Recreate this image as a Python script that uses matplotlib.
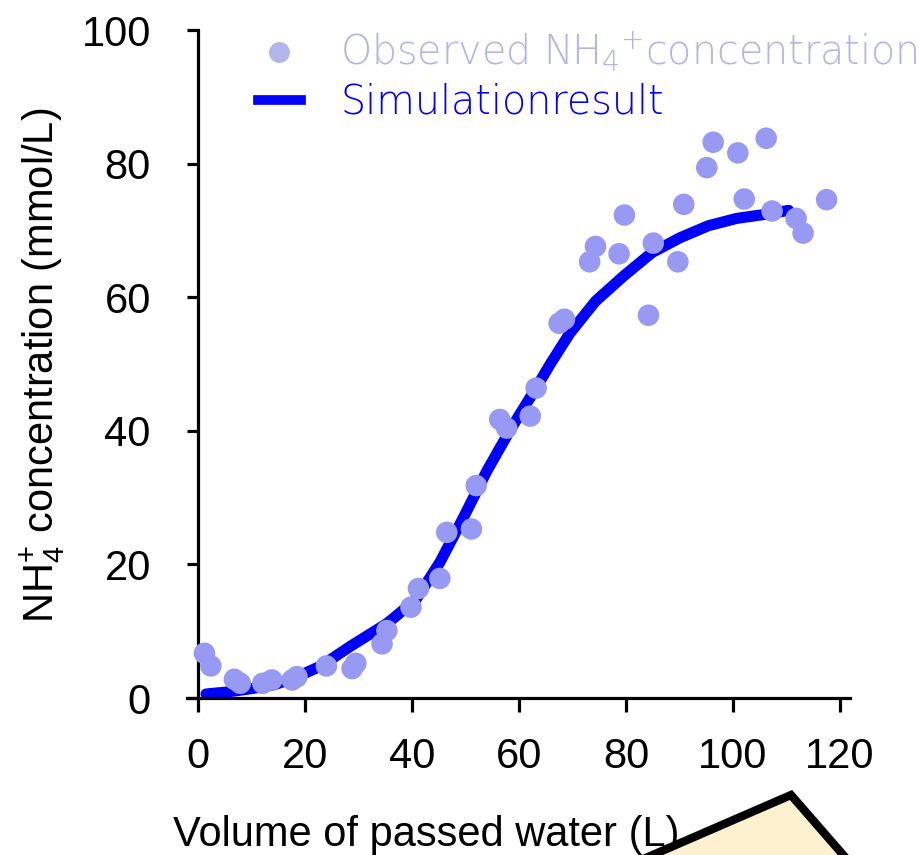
import matplotlib
matplotlib.use("Agg")
import matplotlib.pyplot as plt
from matplotlib.lines import Line2D
from matplotlib.patches import Polygon

# observed NH4+ concentration (mmol/L) vs passed water volume (L)
obs_x = [1.2, 2.4, 6.8, 7.9, 12.1, 13.8, 17.6, 18.5, 24.0, 28.8, 29.5, 34.4, 35.3,
         39.8, 41.2, 45.2, 46.5, 51.1, 52.0, 56.4, 57.7, 62.1, 63.2, 67.5, 68.5,
         73.2, 74.3, 78.7, 79.7, 84.2, 85.1, 89.7, 90.8, 95.1, 96.3, 100.9, 102.1,
         106.2, 107.3, 111.8, 113.1, 117.5]
obs_y = [6.7, 4.8, 2.8, 2.2, 2.2, 2.7, 2.7, 3.2, 4.8, 4.4, 5.2, 8.1, 10.1,
         13.6, 16.4, 17.9, 24.8, 25.3, 31.8, 41.7, 40.4, 42.2, 46.4, 56.1, 56.7,
         65.3, 67.6, 66.5, 72.3, 57.3, 68.1, 65.3, 73.9, 79.4, 83.2, 81.6, 74.7,
         83.8, 72.9, 71.8, 69.6, 74.6]

# simulation result
sim_x = [1.5, 5.5, 10.0, 14.3, 18.0, 23.0, 28.4, 35.4, 40.7, 45.2, 49.6, 54.0,
         58.4, 62.8, 66.0, 69.5, 74.3, 79.6, 84.9, 90.1, 95.4, 100.7, 106.0, 110.4]
sim_y = [0.6, 0.9, 1.4, 2.0, 3.0, 4.8, 7.7, 11.2, 14.7, 20.3, 27.0, 34.0,
         40.2, 45.9, 50.2, 54.6, 59.4, 63.2, 66.7, 68.9, 70.7, 71.8, 72.4, 73.0]

x_ticks = [0, 20, 40, 60, 80, 100, 120]
y_ticks = [0, 20, 40, 60, 80, 100]

W, H = 920, 855
ARIAL = "Liberation Sans"

fig = plt.figure(figsize=(W / 100, H / 100), dpi=100)
ax = fig.add_axes([187 / W, 1 - 698 / H, (850 - 187) / W, (698 - 30) / H])

ax.plot(sim_x, sim_y, color="#0000ff", lw=8, solid_capstyle="round", zorder=2)
ax.scatter(obs_x, obs_y, s=240, color="#9799f3", edgecolors="none", zorder=3)

ax.set_xlim(-2.06, 121.87)
ax.set_ylim(0, 100)
ax.spines["left"].set_position(("data", 0))
for side in ["top", "right"]:
    ax.spines[side].set_visible(False)
for side in ["left", "bottom"]:
    ax.spines[side].set_linewidth(2.3)

ax.set_xticks(x_ticks)
ax.set_yticks(y_ticks)
ax.tick_params(axis="x", length=10, width=2.3, pad=18, labelsize=30)
ax.tick_params(axis="y", length=8, width=2.3, pad=26, labelsize=30)
for lab in ax.get_xticklabels() + ax.get_yticklabels():
    lab.set_fontfamily(ARIAL)

fig.text(43 / W, 1 - 365 / H,
         r"NH$_{\mathdefault{4}}^{\mathdefault{+}}$ concentration (mmol/L)",
         rotation=90, ha="center", va="center", fontsize=30, family=ARIAL)
fig.text(173 / W, 1 - 846 / H, "Volume of passed water (L)",
         ha="left", va="baseline", fontsize=30, family=ARIAL)

# legend
handles = [
    Line2D([], [], ls="none", marker="o", ms=15, color="#b2b4ea", mec="none"),
    Line2D([], [], color="#0000ff", lw=7),
]
labels = [r"Observed NH$_{\mathdefault{4}}{}^{\mathdefault{+}}$concentration",
          "Simulationresult"]
leg = ax.legend(handles, labels, loc="upper left",
                bbox_to_anchor=(258 / W, 1 - 30 / H), bbox_transform=fig.transFigure,
                frameon=False, borderpad=0, borderaxespad=0,
                handlelength=1.08, handletextpad=1.0, labelspacing=0.22,
                prop={"family": "DejaVu Sans", "size": 28.5, "weight": "light"})
leg.get_texts()[0].set_color("#b2b4ea")
leg.get_texts()[1].set_color("#0000ff")

# cropped callout box at the bottom edge
box = Polygon([(791 / W, 1 - 795 / H), (865 / W, 1 - 880 / H), (595 / W, 1 - 880 / H)],
              closed=True, transform=fig.transFigure, facecolor="#fef1d0",
              edgecolor="black", lw=6, joinstyle="miter", clip_on=False, zorder=5)
fig.patches.append(box)

fig.savefig("out.png", dpi=100)
